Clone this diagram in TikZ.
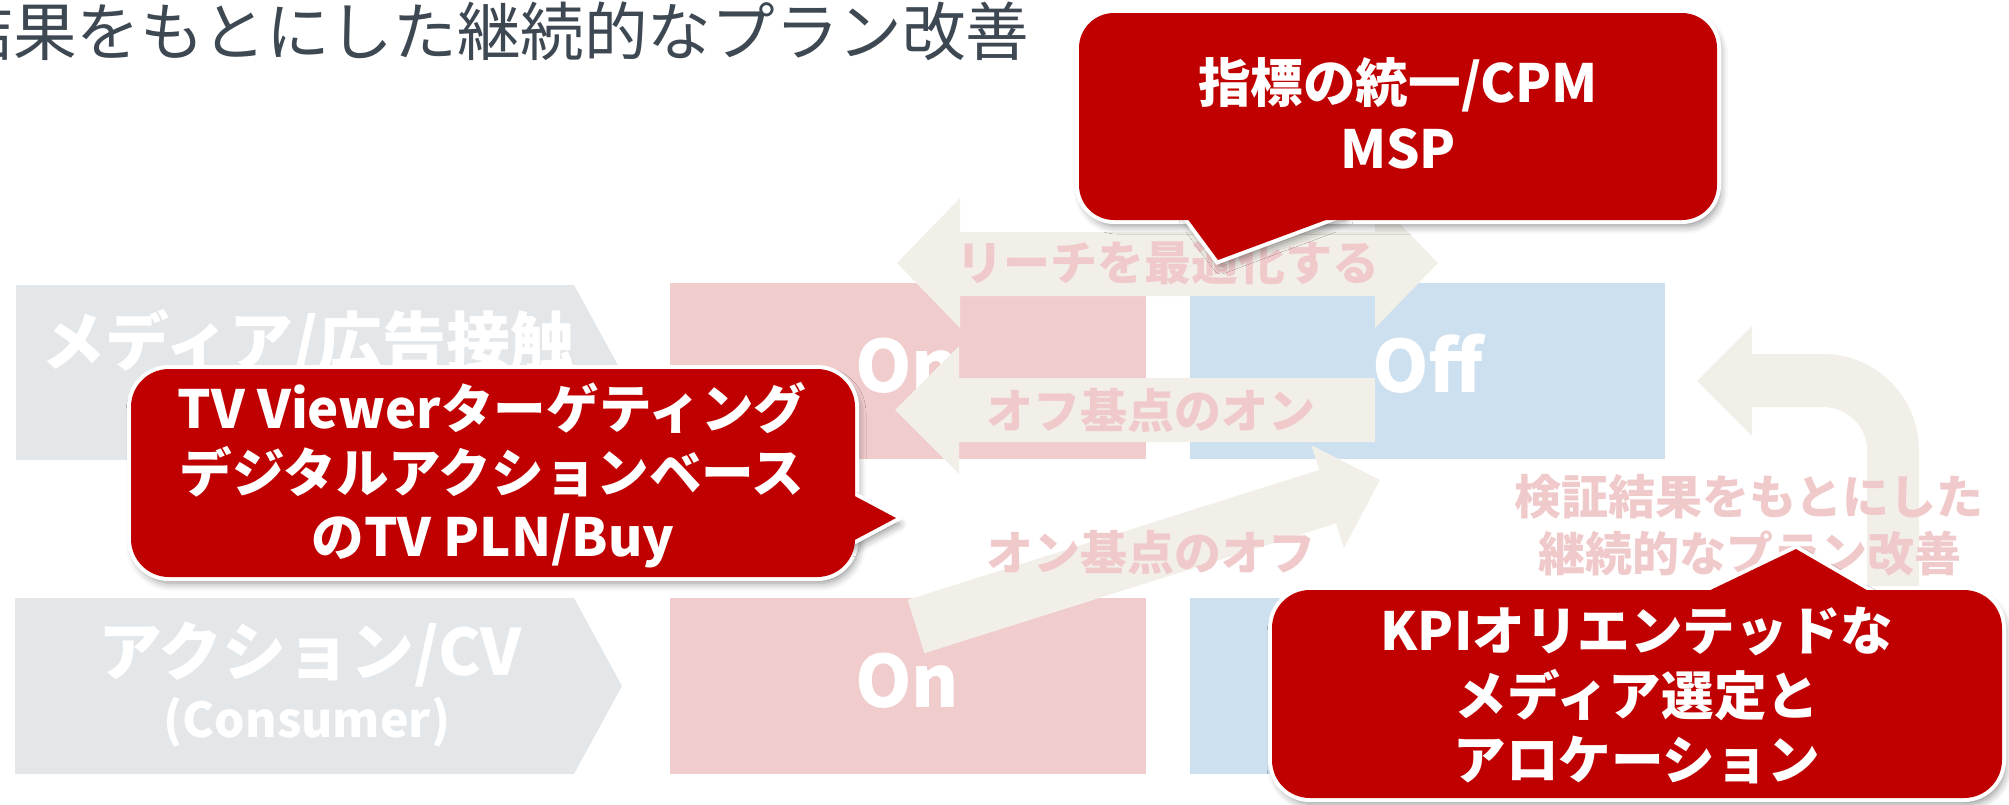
\documentclass[tikz,border=0pt]{standalone}
\usepackage{fontspec}
\setmainfont{Noto Sans CJK JP}
\usetikzlibrary{shadows.blur}
\definecolor{calloutred}{HTML}{C00000}
\definecolor{titlegray}{HTML}{3D4852}
\definecolor{graybg}{HTML}{E3E7EA}
\definecolor{pinkbox}{HTML}{F0CCCD}
\definecolor{bluebox}{HTML}{CCE0F0}
\definecolor{beige}{HTML}{F2EFE9}
\definecolor{labelpink}{HTML}{F0CACB}
\tikzset{
  titletext/.style={anchor=base east, inner sep=0pt, text=titlegray, font=\fontsize{31.8pt}{38pt}\selectfont},
  rowlabel/.style={anchor=base, inner sep=0pt, text=white, font=\bfseries\fontsize{32pt}{38pt}\selectfont},
  sublabel/.style={anchor=base, inner sep=0pt, text=white, font=\bfseries\fontsize{24pt}{28pt}\selectfont},
  onoff/.style={anchor=base, inner sep=0pt, text=white, font=\bfseries\fontsize{36pt}{44pt}\selectfont},
  arrowlabel/.style={anchor=base, inner sep=0pt, text=labelpink, font=\bfseries\fontsize{23.5pt}{28pt}\selectfont},
  callouttext/.style={anchor=base, inner sep=0pt, text=white, font=\bfseries\fontsize{26.3pt}{32pt}\selectfont},
  blockarrow/.style={fill=beige},
  cborder/.style={draw=white, fill=white, line width=4pt,
    blur shadow={shadow xshift=1.5pt, shadow yshift=-3pt, shadow blur radius=4pt, shadow opacity=45}},
  cfill/.style={fill=calloutred},
}
\begin{document}
\begin{tikzpicture}[x=0.5pt,y=-0.5pt]
\useasboundingbox (0,0) rectangle (2009,804);

% title (left part clipped by the page edge, as in the reference)
\node[titletext] (title) at (1030,55) {結果をもとにした継続的なプラン改善};

% row headers
\fill[graybg] (16,285) -- (574,285) -- (622,372.5) -- (574,460) -- (16,460) -- cycle;
\fill[graybg] (15,598) -- (574,598) -- (622,686) -- (574,774) -- (15,774) -- cycle;
\node[rowlabel] (media) at (308,365) {メディア/広告接触};
\node[rowlabel] (action) at (310,675) {アクション/CV};
\node[sublabel] (consumer) at (307,737) {(Consumer)};

% boxes
\fill[pinkbox] (670,283) rectangle (1146,459);
\fill[pinkbox] (670,598) rectangle (1146,774);
\fill[bluebox] (1190,283) rectangle (1665,459);
\fill[bluebox] (1190,598) rectangle (1665,774);
\node[onoff] (on1) at (907,392) {On};
\node[onoff] (off1) at (1428,392) {Off};
\node[onoff] (on2) at (907,707) {On};

% block arrows
\fill[blockarrow] (897,263) -- (960,198) -- (960,232) -- (1375,232) -- (1375,198) -- (1438,263)
  -- (1375,328) -- (1375,296) -- (960,296) -- (960,328) -- cycle;
\fill[blockarrow] (895,410) -- (959,346) -- (959,378) -- (1375,378) -- (1375,442) -- (959,442) -- (959,474) -- cycle;
\fill[blockarrow] (907.6,599.8) -- (1319.2,469.9) -- (1311.3,445.1) -- (1380,480) -- (1343.9,548.1)
  -- (1336,523.3) -- (924.4,653.2) -- cycle;
\fill[blockarrow] (1919,592) -- (1919,450) .. controls (1919,397) and (1876,354) .. (1823,354)
  -- (1752,354) -- (1752,326) -- (1697,381) -- (1752,436) -- (1752,407) -- (1823,407)
  .. controls (1847,407) and (1867,426) .. (1867,450) -- (1867,592) -- cycle;

% arrow labels
\node[arrowlabel] (reach) at (1168,280) {リーチを最適化する};
\node[arrowlabel] (offon) at (1151,428) {オフ基点のオン};
\node[arrowlabel] (onoffl) at (1151,570) {オン基点のオフ};
\node[arrowlabel] (verify1) at (1749,514) {検証結果をもとにした};
\node[arrowlabel] (verify2) at (1750,571) {継続的なプラン改善};

% callout 1 (top)
\path[cborder, rounded corners=17.5pt] (1079,13) rectangle (1717,220);
\path[cborder] (1184,214) -- (1218,260) -- (1342,214) -- cycle;
\path[cfill, rounded corners=17.5pt] (1079,13) rectangle (1717,220);
\path[cfill] (1184,214) -- (1218,260) -- (1342,214) -- cycle;
\node[callouttext] (c1a) at (1398,102.6) {指標の統一/CPM};
\node[callouttext] (c1b) at (1398,168) {MSP};

% callout 2 (left)
\path[cborder, rounded corners=19pt] (131,369) rectangle (855,577);
\path[cborder] (849,493) -- (896,518) -- (849,543) -- cycle;
\path[cfill, rounded corners=19pt] (131,369) rectangle (855,577);
\path[cfill] (849,493) -- (896,518) -- (849,543) -- cycle;
\node[callouttext] (c2a) at (492,428) {TV Viewerターゲティング};
\node[callouttext] (c2b) at (492,492) {デジタルアクションベース};
\node[callouttext] (c2c) at (493,556) {のTV PLN/Buy};

% callout 3 (bottom right)
\path[cborder, rounded corners=19pt] (1272,590) rectangle (2002,798);
\path[cborder] (1698,596) -- (1796,549) -- (1877,596) -- cycle;
\path[cfill, rounded corners=19pt] (1272,590) rectangle (2002,798);
\path[cfill] (1698,596) -- (1796,549) -- (1877,596) -- cycle;
\node[callouttext] (c3a) at (1637,650) {KPIオリエンテッドな};
\node[callouttext] (c3b) at (1637,715) {メディア選定と};
\node[callouttext] (c3c) at (1637,779) {アロケーション};
\end{tikzpicture}
\end{document}
